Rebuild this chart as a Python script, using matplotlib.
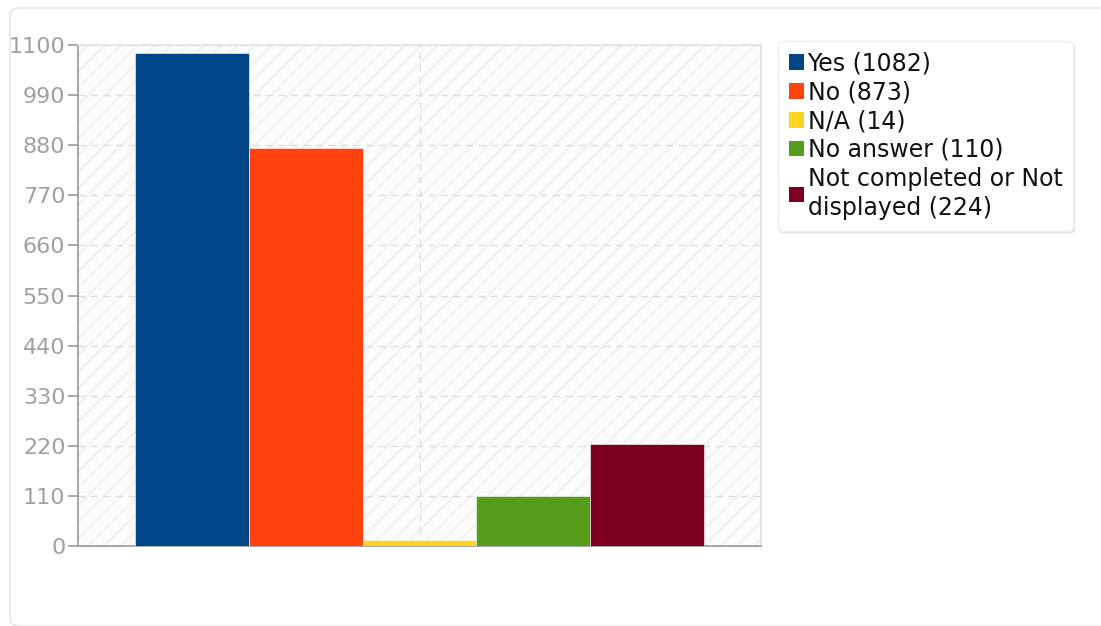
import matplotlib.pyplot as plt
from matplotlib.patches import Rectangle, FancyBboxPatch

labels = ['Yes (1082)', 'No (873)', 'N/A (14)', 'No answer (110)',
          'Not completed or Not\ndisplayed (224)']
values = [1082, 873, 14, 110, 224]
colors = ['#004586', '#ff420e', '#ffd320', '#579d1c', '#7e0021']
yticks = [0, 110, 220, 330, 440, 550, 660, 770, 880, 990, 1100]

fig = plt.figure(figsize=(11.01, 6.26), dpi=100)

# outer panel with rounded corners
panel = FancyBboxPatch((10/1101, 0.0), 1.1, 1 - 8/626,
                       boxstyle='round,pad=0,rounding_size=0.01',
                       transform=fig.transFigure, facecolor='white',
                       edgecolor='#e6e6e6', linewidth=1.2, zorder=-10)
fig.patches.append(panel)

ax = fig.add_axes([78/1101, 80/626, (761-78)/1101, (546-45)/626])
ax.set_facecolor('#fcfcfc')
plt.rcParams['hatch.linewidth'] = 1.6
bg = Rectangle((0, 0), 1, 1, transform=ax.transAxes, facecolor='none',
               edgecolor='#f2f2f2', hatch='//', linewidth=0, zorder=0)
ax.add_patch(bg)

x = list(range(len(values)))
bars = ax.bar(x, values, width=1.0, color=colors, edgecolor='white',
              linewidth=0.4, zorder=3)

ax.set_xlim(-1, 5)
ax.set_ylim(0, 1100)
ax.set_yticks(yticks)
ax.set_xticks([2])
ax.set_xticklabels([])
ax.tick_params(axis='x', length=0)
ax.tick_params(axis='y', direction='out', length=7, width=1.2,
               color='#999999', labelcolor='#a0a0a0', labelsize=16, pad=2)
ax.grid(True, color='#dedede', linestyle=(0, (5, 4)), linewidth=1, zorder=1)
for s in ['left', 'bottom']:
    ax.spines[s].set_color('#999999')
    ax.spines[s].set_linewidth(1.2)
for s in ['top', 'right']:
    ax.spines[s].set_color('#e0e0e0')
    ax.spines[s].set_linewidth(1.2)

handles = [Rectangle((0, 0), 1, 1, facecolor=c, edgecolor='none') for c in colors]
leg = fig.legend(handles, labels, loc='upper left',
                 bbox_to_anchor=(778/1101, 1 - 41/626),
                 fontsize=17, frameon=True, fancybox=True,
                 shadow={'color': '#e4e4e4', 'ox': 1, 'oy': -1.5, 'alpha': 1},
                 handlelength=0.65, handleheight=0.65, handletextpad=0.15,
                 labelspacing=0.2, borderpad=0.45, borderaxespad=0)
leg.get_frame().set_edgecolor('#eeeeee')
leg.get_frame().set_linewidth(1.0)
for t in leg.get_texts():
    t.set_color('#111111')
    t.set_linespacing(1.3)

fig.savefig('out.png', dpi=100)
